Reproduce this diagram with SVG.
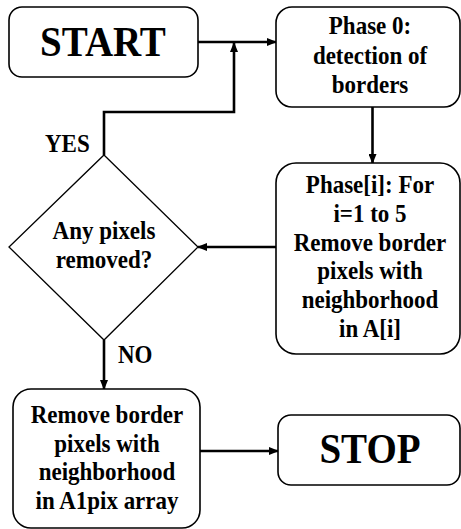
<svg xmlns="http://www.w3.org/2000/svg" width="461" height="529" viewBox="0 0 461 529">
<style>
.box{fill:#fff;stroke:#000;stroke-width:1.6}
.dia{fill:#fff;stroke:#000;stroke-width:1.3}
text{font-weight:bold;font-size:23px;text-anchor:middle;fill:#000}
.big{font-size:39px}
.lbl{text-anchor:start}
.c{fill:none;stroke:#000;stroke-width:2.6}
</style>
<defs>
<marker id="ah" markerWidth="10" markerHeight="8" refX="9" refY="4" orient="auto" markerUnits="userSpaceOnUse">
<path d="M0,0 L10,4 L0,8 Z" fill="#000"/>
</marker>
</defs>
<rect width="461" height="529" fill="#fff"/>
<g id="connectors">
<line class="c" x1="198" y1="42" x2="276" y2="42" marker-end="url(#ah)"/>
<polyline class="c" points="104,155 104,112 234,112 234,43" marker-end="url(#ah)"/>
<line class="c" x1="372.5" y1="107" x2="372.5" y2="163" marker-end="url(#ah)"/>
<line class="c" x1="276" y1="247" x2="198" y2="247" marker-end="url(#ah)"/>
<line class="c" x1="104" y1="340" x2="104" y2="389" marker-end="url(#ah)"/>
<line class="c" x1="200" y1="451" x2="278" y2="451" marker-end="url(#ah)"/>
<text class="lbl" transform="translate(45 152) scale(1 1.1)" font-family="Liberation Serif">YES</text>
<text class="lbl" transform="translate(118 363) scale(1 1.1)" font-family="Liberation Serif">NO</text>
</g>
<g id="start">
<rect class="box" x="9" y="7" width="189" height="70" rx="13"/>
<text class="big" transform="translate(103 56) scale(1 1.09)" font-family="Liberation Serif">START</text>
</g>
<g id="phase0">
<rect class="box" x="276" y="7" width="184" height="100" rx="16"/>
<text transform="translate(370 34) scale(1 1.1)" font-family="Liberation Serif">Phase 0:</text>
<text transform="translate(370 64) scale(1 1.1)" font-family="Liberation Serif">detection of</text>
<text transform="translate(370 93) scale(1 1.1)" font-family="Liberation Serif">borders</text>
</g>
<g id="phasei">
<rect class="box" x="276" y="163" width="184" height="191" rx="20"/>
<text transform="translate(370 193) scale(1 1.1)" font-family="Liberation Serif">Phase[i]: For</text>
<text transform="translate(370 222) scale(1 1.1)" font-family="Liberation Serif">i=1 to 5</text>
<text transform="translate(370 251) scale(1 1.1)" font-family="Liberation Serif">Remove border</text>
<text transform="translate(370 279) scale(1 1.1)" font-family="Liberation Serif">pixels with</text>
<text transform="translate(370 308) scale(1 1.1)" font-family="Liberation Serif">neighborhood</text>
<text transform="translate(370 337) scale(1 1.1)" font-family="Liberation Serif">in A[i]</text>
</g>
<g id="decision">
<polygon class="dia" points="104,155 198,247 104,340 9,247"/>
<text transform="translate(104 239) scale(1 1.1)" font-family="Liberation Serif">Any pixels</text>
<text transform="translate(104 268) scale(1 1.1)" font-family="Liberation Serif">removed?</text>
</g>
<g id="removeA1">
<rect class="box" x="13" y="389" width="187" height="139" rx="18"/>
<text transform="translate(107 423) scale(1 1.1)" font-family="Liberation Serif">Remove border</text>
<text transform="translate(107 452) scale(1 1.1)" font-family="Liberation Serif">pixels with</text>
<text transform="translate(107 480) scale(1 1.1)" font-family="Liberation Serif">neighborhood</text>
<text transform="translate(107 509) scale(1 1.1)" font-family="Liberation Serif">in A1pix array</text>
</g>
<g id="stop">
<rect class="box" x="278" y="415" width="182" height="70" rx="13"/>
<text class="big" transform="translate(370 463) scale(1 1.09)" font-family="Liberation Serif">STOP</text>
</g>
</svg>
